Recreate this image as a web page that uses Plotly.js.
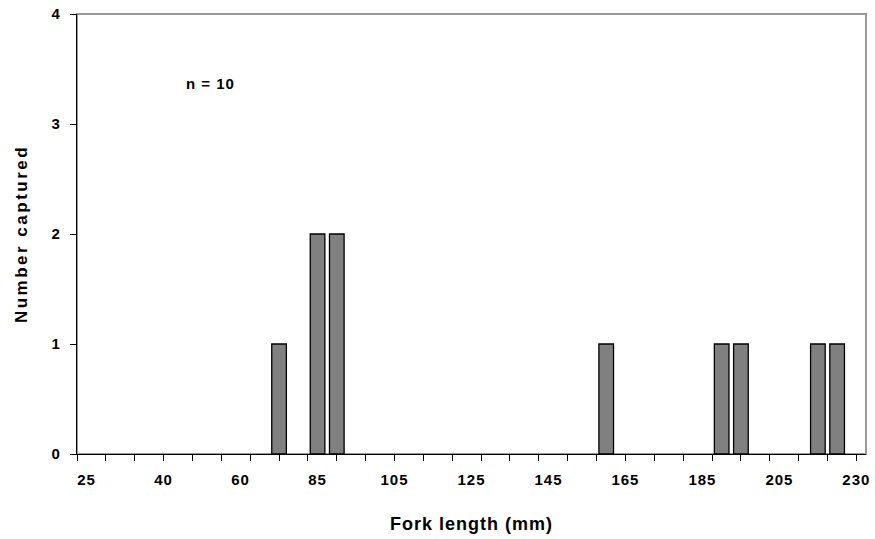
<!DOCTYPE html>
<html>
<head>
<meta charset="utf-8">
<script src="https://cdn.plot.ly/plotly-3.0.1.min.js"></script>
<style>
  html, body { margin: 0; padding: 0; background: #fff; }
  #chart { width: 875px; height: 539px; }
  .xtick text, .x2tick text, .ytick text { letter-spacing: 1px; }
  .xtitle, .x2title { letter-spacing: 1px; }
  .ytitle { letter-spacing: 2.5px; }
  .annotation-text { letter-spacing: 1px; }
</style>
</head>
<body>
<div id="chart"></div>
<script>
// Fork-length bins (mm), one per category on the x axis
const forkLengths = [25, 30, 33, 37, 40, 45, 50, 55, 60, 65,
                     70, 80, 85, 90, 95, 100, 105, 110, 115, 120,
                     125, 130, 135, 140, 145, 150, 155, 160, 165, 170,
                     175, 180, 185, 190, 195, 200, 205, 210, 220, 225, 230];
// Number captured in each bin
const numberCaptured = [0, 0, 0, 0, 0, 0, 0, 0, 0, 0,
                        1, 0, 2, 2, 0, 0, 0, 0, 0, 0,
                        0, 0, 0, 0, 0, 0, 0, 1, 0, 0,
                        0, 0, 0, 1, 1, 0, 0, 0, 1, 1, 0];
// Bins that carry a tick label
const labelledLengths = [25, 40, 60, 85, 105, 125, 145, 165, 185, 205, 230];

const xIndex = forkLengths.map((_, i) => i);
const labelVals = labelledLengths.map(v => forkLengths.indexOf(v));
const labelText = labelledLengths.map(String);
const total = numberCaptured.reduce((a, b) => a + b, 0);
// empty bins draw nothing (no outline on the axis)
const barHeights = numberCaptured.map(v => (v === 0 ? null : v));

const font = { family: '"Liberation Sans", Arial, sans-serif', color: '#000', weight: 'bold' };

const traces = [
  {
    type: 'bar',
    x: xIndex,
    y: barHeights,
    xaxis: 'x',
    yaxis: 'y',
    marker: { color: '#808080', line: { color: '#000', width: 1.3 } },
    hoverinfo: 'skip',
    showlegend: false
  },
  {
    type: 'scatter',
    mode: 'markers',
    x: xIndex,
    y: numberCaptured,
    xaxis: 'x2',
    yaxis: 'y',
    marker: { size: 1, opacity: 0 },
    hoverinfo: 'skip',
    showlegend: false
  }
];

const nCat = forkLengths.length;
const layout = {
  width: 875,
  height: 539,
  margin: { l: 77, r: 9, t: 14, b: 85 },
  paper_bgcolor: '#fff',
  plot_bgcolor: '#fff',
  bargap: 0.24,
  font: font,
  xaxis: {
    type: 'linear',
    range: [-0.5, nCat - 0.5],
    tickmode: 'linear',
    tick0: -0.5,
    dtick: 1.5,
    ticks: 'outside',
    ticklen: 6,
    tickwidth: 1,
    tickcolor: '#000',
    showticklabels: false,
    showline: true,
    linecolor: '#000',
    linewidth: 1.2,
    showgrid: false,
    zeroline: false,
    fixedrange: true
  },
  xaxis2: {
    type: 'linear',
    overlaying: 'x',
    anchor: 'y',
    side: 'bottom',
    range: [-0.5, nCat - 0.5],
    tickmode: 'array',
    tickvals: labelVals,
    ticktext: labelText,
    ticks: '',
    ticklabelstandoff: 15,
    tickfont: Object.assign({}, font, { size: 15 }),
    showline: false,
    showgrid: false,
    zeroline: false,
    title: { text: 'Fork length (mm)', font: Object.assign({}, font, { size: 18 }), standoff: 30 },
    fixedrange: true
  },
  yaxis: {
    range: [0, 4],
    tickmode: 'linear',
    tick0: 0,
    dtick: 1,
    ticks: 'outside',
    ticklen: 6,
    tickwidth: 1,
    tickcolor: '#000',
    ticklabelstandoff: 6,
    tickfont: Object.assign({}, font, { size: 15 }),
    showline: true,
    linecolor: '#000',
    linewidth: 1.2,
    showgrid: false,
    zeroline: false,
    title: { text: 'Number captured', font: Object.assign({}, font, { size: 17 }), standoff: 19 },
    fixedrange: true
  },
  shapes: [
    {
      type: 'rect', xref: 'paper', yref: 'paper', x0: 0, x1: 1, y0: 0, y1: 1,
      line: { color: '#9a9a9a', width: 2 }, layer: 'below'
    }
  ],
  annotations: [
    {
      xref: 'paper', yref: 'paper', x: 0.135, y: 0.843,
      xanchor: 'left', yanchor: 'middle', showarrow: false,
      text: 'n = ' + total,
      font: Object.assign({}, font, { size: 15 })
    }
  ]
};

Plotly.newPlot('chart', traces, layout, { displayModeBar: false, staticPlot: true });
</script>
</body>
</html>
